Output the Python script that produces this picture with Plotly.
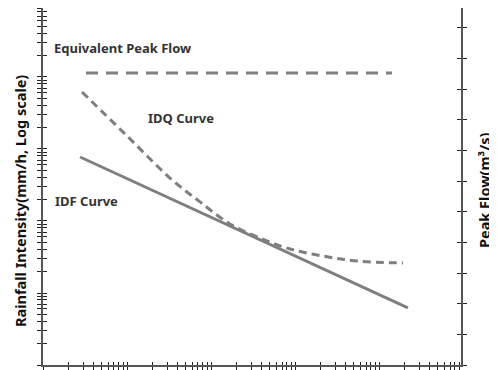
import plotly.graph_objects as go

# ---- data ----
idf_x = [2.76, 22100]
idf_y = [774, 6.2]

idq_x = [2.91, 9.47, 32.5, 74.0, 168, 383, 872, 2154, 5470, 19300]
idq_y = [6190, 1616, 395, 184, 90.9, 58.1, 40.8, 32.6, 27.8, 26.1]

peak_x = [3.25, 14280]
peak_y = [9.53, 9.53]   # on the right (peak flow) axis

x_range_log = [0, 4.976]
y_range_log = [0, 4.958]
y2_range = [0, 11.65]

labels = ["Equivalent Peak Flow", "IDQ Curve", "IDF Curve"]
left_title = "Rainfall Intensity(mm/h, Log scale)"
right_title = "Peak Flow(m\u00b3/s)"

# log tick positions (all digits of every decade)
log_ticks = [d * 10 ** k for k in range(0, 6) for d in range(1, 10)]
lin_ticks = list(range(0, 12))

GRAY = "#7f7f7f"
AX = "#555555"
TK = "#222222"
FONT = "Noto Sans"

# the page body has an 8px margin; plot area in page px: x 43..461, y 8..365
PW, PH = 418, 357

fig = go.Figure()
fig.add_trace(go.Scatter(x=idf_x, y=idf_y, mode="lines",
                         line=dict(color=GRAY, width=3), xaxis="x", yaxis="y",
                         showlegend=False, hoverinfo="skip"))
fig.add_trace(go.Scatter(x=idq_x, y=idq_y, mode="lines",
                         line=dict(color=GRAY, width=3, dash="8px,5px", shape="spline"),
                         xaxis="x", yaxis="y", showlegend=False, hoverinfo="skip"))
fig.add_trace(go.Scatter(x=peak_x, y=peak_y, mode="lines",
                         line=dict(color=GRAY, width=3, dash="12px,8px"),
                         xaxis="x", yaxis="y2", showlegend=False, hoverinfo="skip"))
# invisible traces so the overlay (inside-tick) axes get drawn
fig.add_trace(go.Scatter(x=[None], y=[None], xaxis="x2", yaxis="y3",
                         showlegend=False, hoverinfo="skip"))
fig.add_trace(go.Scatter(x=[None], y=[None], xaxis="x2", yaxis="y4",
                         showlegend=False, hoverinfo="skip"))

common_x = dict(type="log", range=x_range_log, tickmode="array", tickvals=log_ticks,
                showticklabels=False, showgrid=False, zeroline=False,
                tickcolor=TK, tickwidth=1, ticklen=3)
common_y = dict(type="log", range=y_range_log, tickmode="array", tickvals=log_ticks,
                showticklabels=False, showgrid=False, zeroline=False,
                tickcolor=TK, tickwidth=1, ticklen=4)
common_y2 = dict(range=y2_range, tickmode="array", tickvals=lin_ticks,
                 showticklabels=False, showgrid=False, zeroline=False,
                 tickcolor=TK, tickwidth=1, ticklen=4)

fig.update_layout(
    width=489, height=362,
    margin=dict(l=35, r=36, t=0, b=5),
    paper_bgcolor="white", plot_bgcolor="white",
    xaxis=dict(**common_x, ticks="outside", showline=True, linecolor=AX, linewidth=2,
               anchor="y"),
    xaxis2=dict(**common_x, ticks="inside", showline=False, overlaying="x",
                anchor="y3", side="bottom"),
    yaxis=dict(**common_y, ticks="outside", showline=True, linecolor=AX, linewidth=2,
               anchor="x"),
    yaxis3=dict(**common_y, ticks="inside", showline=False, overlaying="y",
                anchor="x2", side="left"),
    yaxis2=dict(**common_y2, ticks="outside", showline=True, linecolor=AX, linewidth=2,
                overlaying="y", side="right", anchor="x"),
    yaxis4=dict(**common_y2, ticks="inside", showline=False, overlaying="y",
                side="right", anchor="x2"),
    font=dict(family=FONT, color="#222222"),
)

def px(xp):
    return (xp - 43) / PW

def py(yp):
    return (365 - yp) / PH

lab_font = dict(size=13, family=FONT, color="#333333", weight="bold")
fig.add_annotation(text=labels[0], xref="paper", yref="paper", x=px(52), y=py(48),
                   xanchor="left", yanchor="middle", showarrow=False, font=lab_font)
fig.add_annotation(text=labels[1], xref="paper", yref="paper", x=px(146), y=py(118),
                   xanchor="left", yanchor="middle", showarrow=False, font=lab_font)
fig.add_annotation(text=labels[2], xref="paper", yref="paper", x=px(53), y=py(201),
                   xanchor="left", yanchor="middle", showarrow=False, font=lab_font)

tit_font = dict(size=14.5, family=FONT, color="#111111", weight="bold")
fig.add_annotation(text=left_title, xref="paper", yref="paper", x=px(20), y=py(201),
                   xanchor="center", yanchor="middle", textangle=-90, showarrow=False,
                   font=tit_font)
fig.add_annotation(text=right_title, xref="paper", yref="paper", x=px(484), y=py(191),
                   xanchor="center", yanchor="middle", textangle=-90, showarrow=False,
                   font=tit_font)

fig.write_html("out.html")
